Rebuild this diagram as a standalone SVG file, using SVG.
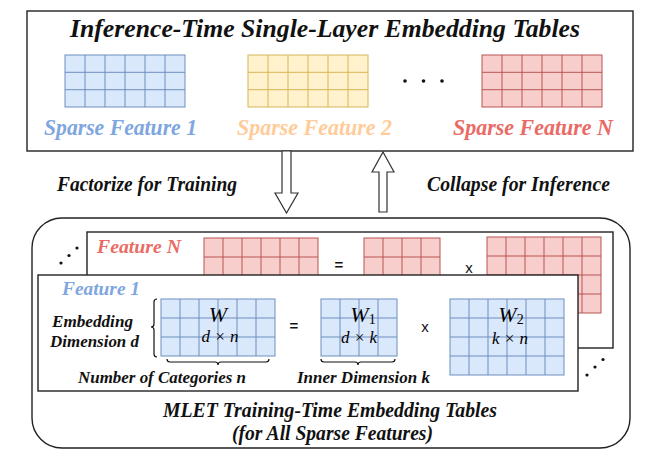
<svg xmlns="http://www.w3.org/2000/svg" width="653" height="453" viewBox="0 0 653 453">
  <style>
    .frame { fill: #ffffff; stroke: #222222; stroke-width: 1.4; }
    .lbl { font-family: "Liberation Serif", "Times New Roman", serif; font-weight: bold; font-style: italic; fill: #111111; }
    .math { font-family: "Liberation Serif", "Times New Roman", serif; font-style: italic; fill: #000000; text-anchor: middle; }
    .op { font-family: "Liberation Sans", Arial, sans-serif; font-size: 15px; fill: #111111; text-anchor: middle; }
    .blue { fill: #dae8fc; stroke: #6c8ebf; stroke-width: 1; }
    .yellow { fill: #fff2cc; stroke: #d6b656; stroke-width: 1; }
    .red { fill: #f8cecc; stroke: #b85450; stroke-width: 1; }
    .gb { fill: none; stroke: #6c8ebf; stroke-width: 1; }
    .gy { fill: none; stroke: #d6b656; stroke-width: 1; }
    .gr { fill: none; stroke: #b85450; stroke-width: 1; }
    .brace { fill: none; stroke: #111111; stroke-width: 1.2; }
    .arrow { fill: #ffffff; stroke: #333333; stroke-width: 1.2; }
    .dot { fill: #111111; }
  </style>

  <!-- inference-time tables -->
  <g id="inference-panel">
    <rect class="frame" x="27" y="11" width="606" height="140"/>
    <text class="lbl" x="70" y="37" font-size="25" textLength="510" lengthAdjust="spacingAndGlyphs">Inference-Time Single-Layer Embedding Tables</text>
  </g>

  <g id="sparse-feature-1">
    <rect class="blue" x="65" y="55" width="120" height="52"/>
    <path class="gb" d="M85,55V107M105,55V107M125,55V107M145,55V107M165,55V107M65,72.3H185M65,89.7H185"/>
    <text class="lbl" x="44" y="135" font-size="22.5" style="fill:#7ea6e0" textLength="153" lengthAdjust="spacingAndGlyphs">Sparse Feature 1</text>
  </g>

  <g id="sparse-feature-2">
    <rect class="yellow" x="248" y="55" width="120" height="52"/>
    <path class="gy" d="M268,55V107M288,55V107M308,55V107M328,55V107M348,55V107M248,72.3H368M248,89.7H368"/>
    <text class="lbl" x="237" y="135" font-size="22.5" style="fill:#ffcc99" textLength="155" lengthAdjust="spacingAndGlyphs">Sparse Feature 2</text>
  </g>

  <g id="ellipsis-top">
    <circle class="dot" cx="405" cy="81" r="1.8"/>
    <circle class="dot" cx="423.5" cy="81" r="1.8"/>
    <circle class="dot" cx="442" cy="81" r="1.8"/>
  </g>

  <g id="sparse-feature-n">
    <rect class="red" x="482" y="55" width="120" height="52"/>
    <path class="gr" d="M502,55V107M522,55V107M542,55V107M562,55V107M582,55V107M482,72.3H602M482,89.7H602"/>
    <text class="lbl" x="453" y="135" font-size="22.5" style="fill:#ea6b66" textLength="160" lengthAdjust="spacingAndGlyphs">Sparse Feature N</text>
  </g>

  <!-- transitions between the two views -->
  <g id="connectors">
    <polygon class="arrow" points="282,151 291,151 291,193 298,193 286.5,213 275,193 282,193"/>
    <polygon class="arrow" points="379,212 387,212 387,172 394,172 383,152 372,172 379,172"/>
    <text class="lbl" x="57" y="191" font-size="20.5" textLength="180" lengthAdjust="spacingAndGlyphs">Factorize for Training</text>
    <text class="lbl" x="427" y="191" font-size="20.5" textLength="183" lengthAdjust="spacingAndGlyphs">Collapse for Inference</text>
  </g>

  <!-- training-time factorized tables -->
  <g id="training-panel">
    <rect class="frame" x="32" y="218" width="598" height="230" rx="30" ry="30"/>
    <text class="lbl" x="163" y="417" font-size="20.5" textLength="334" lengthAdjust="spacingAndGlyphs">MLET Training-Time Embedding Tables</text>
    <text class="lbl" x="232" y="440" font-size="20.5" textLength="201" lengthAdjust="spacingAndGlyphs">(for All Sparse Features)</text>
  </g>

  <g id="ellipsis-left">
    <circle class="dot" cx="61" cy="263" r="1.6"/>
    <circle class="dot" cx="69" cy="255.5" r="1.6"/>
    <circle class="dot" cx="77" cy="248" r="1.6"/>
  </g>
  <g id="ellipsis-right">
    <circle class="dot" cx="587" cy="375" r="1.6"/>
    <circle class="dot" cx="595" cy="367" r="1.6"/>
    <circle class="dot" cx="603" cy="359.5" r="1.6"/>
  </g>

  <g id="feature-n-card">
    <rect class="frame" x="87" y="232" width="526" height="116"/>
    <text class="lbl" x="97" y="253" font-size="19.5" style="fill:#ea6b66" textLength="84" lengthAdjust="spacingAndGlyphs">Feature N</text>
    <rect class="red" x="204" y="238" width="114" height="57"/>
    <path class="gr" d="M223,238V295M242,238V295M261,238V295M280,238V295M299,238V295M204,257H318M204,276H318"/>
    <text class="op" x="339" y="270" font-weight="bold">=</text>
    <rect class="red" x="364" y="238" width="76" height="57"/>
    <path class="gr" d="M383,238V295M402,238V295M421,238V295M364,257H440M364,276H440"/>
    <text class="op" x="469" y="273">x</text>
    <rect class="red" x="487" y="237" width="114" height="76"/>
    <path class="gr" d="M506,237V313M525,237V313M544,237V313M563,237V313M582,237V313M487,256H601M487,275H601M487,294H601"/>
  </g>

  <g id="feature-1-card">
    <rect class="frame" x="38" y="275" width="540" height="116"/>
    <text class="lbl" x="62" y="295" font-size="19.5" style="fill:#7ea6e0" textLength="78" lengthAdjust="spacingAndGlyphs">Feature 1</text>
    <text class="lbl" x="52" y="327" font-size="17.5" textLength="81" lengthAdjust="spacingAndGlyphs">Embedding</text>
    <text class="lbl" x="50" y="347" font-size="17.5" textLength="89" lengthAdjust="spacingAndGlyphs">Dimension d</text>
    <path class="brace" d="M157,299 Q154,299 154,302 L154,324 Q154,327 151,327 Q154,327 154,330 L154,354 Q154,357 157,357"/>

    <rect class="blue" x="161" y="299" width="114" height="57"/>
    <path class="gb" d="M180,299V356M199,299V356M218,299V356M237,299V356M256,299V356M161,318H275M161,337H275"/>
    <text class="math" x="218" y="322" font-size="22">W</text>
    <text class="math" x="220" y="342" font-size="17">d × n</text>
    <path class="brace" d="M167,359 Q167,362 170,362 L215,362 Q218,362 218,365 Q218,362 221,362 L266,362 Q269,362 269,359"/>
    <text class="lbl" x="78" y="383" font-size="17.5" textLength="168" lengthAdjust="spacingAndGlyphs">Number of Categories n</text>

    <text class="op" x="294" y="331" font-weight="bold">=</text>

    <rect class="blue" x="321" y="299" width="76" height="57"/>
    <path class="gb" d="M340,299V356M359,299V356M378,299V356M321,318H397M321,337H397"/>
    <text class="math" x="363" y="322" font-size="22">W<tspan font-style="normal" font-size="14" dy="2">1</tspan></text>
    <text class="math" x="359" y="343" font-size="17">d × k</text>
    <path class="brace" d="M321,359 Q321,362 324,362 L355,362 Q358,362 358,365 Q358,362 361,362 L392,362 Q395,362 395,359"/>
    <text class="lbl" x="297" y="383" font-size="17.5" textLength="133" lengthAdjust="spacingAndGlyphs">Inner Dimension k</text>

    <text class="op" x="425" y="332">x</text>

    <rect class="blue" x="450" y="299" width="114" height="76"/>
    <path class="gb" d="M469,299V375M488,299V375M507,299V375M526,299V375M545,299V375M450,318H564M450,337H564M450,356H564"/>
    <text class="math" x="511" y="322" font-size="22">W<tspan font-style="normal" font-size="14" dy="2">2</tspan></text>
    <text class="math" x="510" y="344" font-size="17">k × n</text>
  </g>
</svg>
